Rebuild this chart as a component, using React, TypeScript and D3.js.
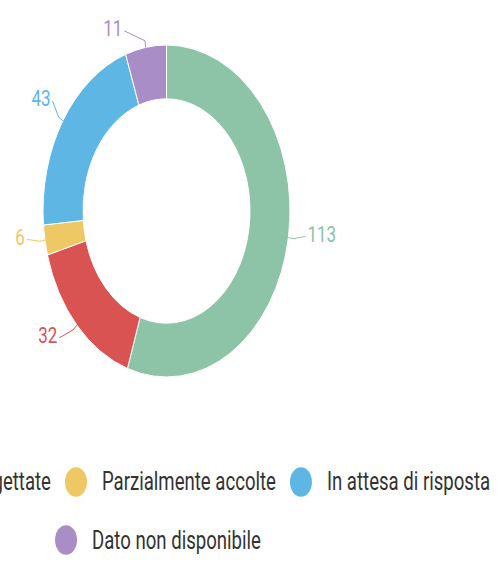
import React, { useEffect, useRef } from "react";
import * as d3 from "d3";

const categories = ["Accolte", "Rigettate", "Parzialmente accolte", "In attesa di risposta", "Dato non disponibile"];
const values = [113, 32, 6, 43, 11];
const colors = ["#8DC3A7", "#DA5353", "#EEC864", "#5DB6E4", "#A88DC6"];
const legendRows = [[0, 1, 2, 3], [4]];

const W = 500;
const H = 563;
const SY = 1.344;

export default function App() {
  const ref = useRef<SVGSVGElement>(null);
  useEffect(() => {
    const svg = d3.select(ref.current);
    svg.selectAll("*").remove();
    const g = svg.append("g").attr("transform", `scale(1,${SY})`);
    const cx = 166.5, cy = 157, R = 123.5, r = 83.5;
    const RL = 143; // label ring radius
    const minDy = -136; // top bound for labels
    const pie = d3.pie<number>().sort(null).value((d) => d);
    const arcs = pie(values);
    const arc = d3.arc<d3.PieArcDatum<number>>().innerRadius(r).outerRadius(R);
    const chart = g.append("g").attr("transform", `translate(${cx},${cy})`);
    chart
      .selectAll("path")
      .data(arcs)
      .join("path")
      .attr("d", arc)
      .attr("fill", (_d, i) => colors[i])
      .attr("stroke", "#fff")
      .attr("stroke-width", 1)
      .attr("vector-effect", "non-scaling-stroke");

    // data labels (position on label ring, x derived from y)
    arcs.forEach((a, i) => {
      const mid = (a.startAngle + a.endAngle) / 2;
      const right = Math.sin(mid) > 0;
      const sgn = right ? 1 : -1;
      let dy = -Math.cos(mid) * RL - 6;
      dy = Math.max(dy, minDy);
      const dx = sgn * Math.sqrt(Math.max(0, RL * RL - dy * dy)) + (right ? -1 : 0);
      const p0 = [Math.sin(mid) * R, -Math.cos(mid) * R];
      const p1 = [Math.sin(mid) * (R + 5), -Math.cos(mid) * (R + 5)];
      const p2 = [dx - sgn * 2, dy + 2];
      chart
        .append("polyline")
        .attr("points", [p0, p1, p2].map((p) => p.join(",")).join(" "))
        .attr("fill", "none")
        .attr("stroke", colors[i])
        .attr("stroke-width", 1)
        .attr("vector-effect", "non-scaling-stroke");
      chart
        .append("text")
        .attr("x", dx)
        .attr("y", dy)
        .attr("dominant-baseline", "central")
        .attr("text-anchor", right ? "start" : "end")
        .attr("font-family", "Roboto")
        .attr("font-size", 17)
        .attr("fill", colors[i])
        .text(String(values[i]));
    });

    // legend
    const legendCx = 158;
    const rowY = [358.6, 401.8];
    const circR = 11, gap = 15, itemGap = 14;
    legendRows.forEach((row, ri) => {
      const lg = g.append("g");
      const items = row.map((idx) => {
        const t = lg
          .append("text")
          .attr("font-family", "Roboto")
          .attr("font-size", 18.6)
          .attr("fill", "#333333")
          .attr("dominant-baseline", "central")
          .attr("y", rowY[ri])
          .text(categories[idx]);
        const w = (t.node() as SVGTextElement).getComputedTextLength();
        return { idx, t, w };
      });
      const total = items.reduce((s, it) => s + circR * 2 + gap + it.w, 0) + itemGap * (items.length - 1);
      let x = legendCx - total / 2;
      items.forEach((it) => {
        lg.append("circle")
          .attr("cx", x + circR)
          .attr("cy", rowY[ri])
          .attr("r", circR)
          .attr("fill", colors[it.idx]);
        it.t.attr("x", x + circR * 2 + gap);
        x += circR * 2 + gap + it.w + itemGap;
      });
    });
  }, []);
  return (
    <svg
      ref={ref}
      width={W}
      height={H}
      style={{ position: "absolute", left: 0, top: 0, display: "block", background: "#fff" }}
    />
  );
}
